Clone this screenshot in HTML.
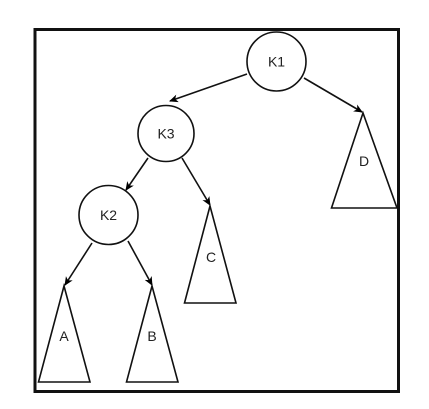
<!DOCTYPE html>
<html><head><meta charset="utf-8"><style>
html,body{margin:0;padding:0;background:#fff;}
svg{display:block;font-family:"Liberation Sans",sans-serif;}
</style></head><body>
<svg width="429" height="409" viewBox="0 0 429 409">
<defs><marker id="ah" markerWidth="10" markerHeight="10" refX="8" refY="4" orient="auto" markerUnits="userSpaceOnUse"><path d="M0,0 L9,4 L0,8 L2.5,4 Z" fill="#000"/></marker></defs>
<rect x="35" y="29.5" width="363.5" height="362" fill="none" stroke="#111" stroke-width="3"/>
<g stroke="#111" stroke-width="1.6" fill="none" marker-end="url(#ah)">
<line x1="247" y1="74" x2="170" y2="101"/>
<line x1="304" y1="78" x2="362" y2="112"/>
<line x1="148" y1="158" x2="126" y2="190"/>
<line x1="182" y1="158" x2="210" y2="205"/>
<line x1="92" y1="243" x2="65" y2="285"/>
<line x1="128" y1="241" x2="152" y2="285"/>
</g>
<g stroke="#111" stroke-width="1.6" fill="#fff">
<circle cx="276.5" cy="61.5" r="29.5"/>
<circle cx="166" cy="133.5" r="28"/>
<circle cx="108.5" cy="215" r="29.5"/>
<polygon points="363,113 331.5,208 397,208"/>
<polygon points="210,206 184.5,303 236,303"/>
<polygon points="64,286 38.5,382 90,382"/>
<polygon points="152,286 126.5,382 178,382"/>
</g>
<g font-size="14" text-anchor="middle" fill="#222">
<text x="276.5" y="66.5">K1</text>
<text x="166" y="138.5">K3</text>
<text x="108.5" y="220">K2</text>
<text x="364" y="166">D</text>
<text x="211" y="262">C</text>
<text x="64" y="341">A</text>
<text x="152" y="341">B</text>
</g>
</svg>
</body></html>
